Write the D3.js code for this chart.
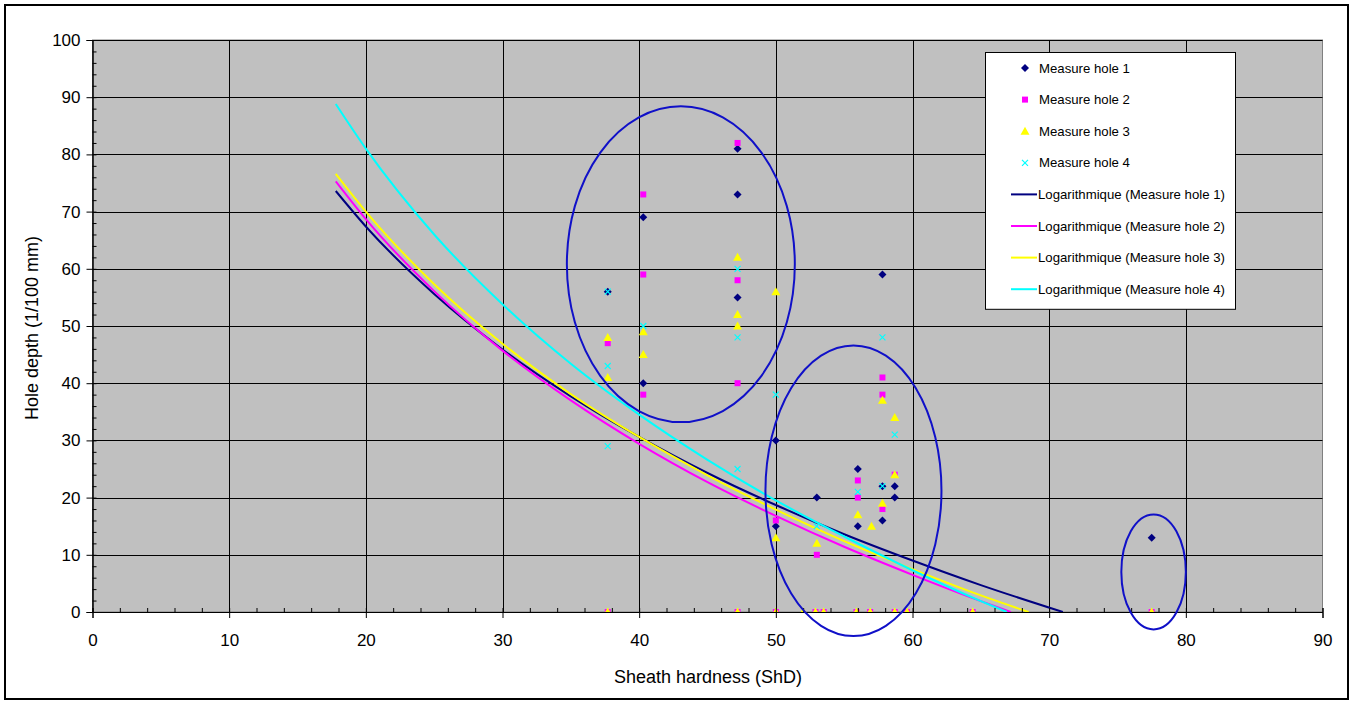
<!DOCTYPE html>
<meta charset="utf-8">
<style>
body{margin:0;background:#fff;}
svg{display:block}
text{font-family:Arial,"Liberation Sans",sans-serif;fill:#000;}
</style>
<svg id="chart" width="1354" height="704"></svg>
<script src="https://d3js.org/d3.v7.min.js"></script>
<script>
// scatter series: [hardness ShD, hole depth 1/100 mm]
const hole1 = [[37.7,56],[40.3,69],[40.3,40],[47.2,81],[47.2,73],[47.2,55],[50.0,30],[50.0,15],
  [53.0,20],[56.0,25],[56.0,15],[57.8,59],[57.8,22],[57.8,16],[58.7,22],[58.7,20],[77.5,13]]
const hole2 = [[37.7,47],[40.3,73],[40.3,59],[40.3,38],[47.2,82],[47.2,58],[47.2,40],[50.0,16],
  [53.0,10],[56.0,23],[56.0,20],[57.8,41],[57.8,38],[57.8,18],[58.7,24],
  [37.7,0],[47.2,0],[50.0,0],[52.9,0],[53.5,0],[55.9,0],[56.9,0],[58.7,0],[59.6,0],[64.4,0],[77.5,0]]
const hole3 = [[37.7,48],[37.7,41],[40.3,49],[40.3,45],[47.2,62],[47.2,52],[47.2,50],[50.0,56],
  [50.0,13],[53.0,12],[56.0,17],[57.0,15],[57.8,37],[57.8,19],[58.7,34],[58.7,24],
  [37.7,0],[47.2,0],[50.0,0],[52.0,0],[52.9,0],[53.5,0],[55.9,0],[56.9,0],[58.7,0],[59.6,0],[64.4,0],[77.5,0]]
const hole4 = [[37.7,56],[37.7,43],[37.7,29],[40.3,50],[47.2,60],[47.2,48],[47.2,25],[50.0,38],
  [53.0,15],[56.0,21],[57.8,48],[57.8,22],[58.7,31]]

// logarithmic trend lines
const trend1 = [[17.8,73.6],[20,67.4],[25,55.6],[30,45.9],[35,37.7],[40,30.6],[45,24.3],[50,18.7],[55,13.6],[60,9.0],[65,4.7],[71.0,0]]
const trend2 = [[17.8,75.3],[20,68.7],[25,56.1],[30,45.7],[35,37.0],[40,29.4],[45,22.7],[50,16.8],[55,11.4],[60,6.5],[65,1.9],[67.2,0]]
const trend3 = [[17.8,76.6],[20,70.0],[25,57.3],[30,46.9],[35,38.1],[40,30.6],[45,23.9],[50,17.9],[55,12.4],[60,7.5],[65,2.9],[68.5,0]]
const trend4 = [[17.8,88.8],[20,81.0],[25,66.0],[30,53.8],[35,43.4],[40,34.5],[45,26.6],[50,19.5],[55,13.2],[60,7.3],[65,1.9],[66.9,0]]

// hand-drawn ellipses: centre x, centre y, radius x, radius y (data units)
const circles = [[43.05,60.8,8.34,27.6],[55.68,21.2,6.44,25.4],[77.64,7.0,2.36,10.05]]

const seriesNames = ['Measure hole 1','Measure hole 2','Measure hole 3','Measure hole 4']
const trendNames = seriesNames.map(n => 'Logarithmique (' + n + ')')
const colors = ['#000080','#ff00ff','#ffff00','#00ffff']
const shapes = ['diamond','square','triangle','cross']

const svg = d3.select('#chart')
const x = d3.scaleLinear().domain([0,90]).range([92.5,1322.5])
const y = d3.scaleLinear().domain([0,100]).range([612,40])

// outer chart frame
svg.append('rect').attr('x',5).attr('y',5).attr('width',1343).attr('height',694)
  .attr('fill','#fff').attr('stroke','#000').attr('stroke-width',2)

// plot area
svg.append('rect').attr('x',x(0)).attr('y',y(100)).attr('width',x(90)-x(0)).attr('height',y(0)-y(100))
  .attr('fill','#c0c0c0').attr('stroke','#808080')

const grid = svg.append('g').attr('stroke','#000').attr('stroke-width',1)
grid.selectAll('line.v').data(d3.range(10,90,10)).join('line').attr('class','v')
  .attr('x1',d=>Math.round(x(d))+0.5).attr('x2',d=>Math.round(x(d))+0.5).attr('y1',y(0)).attr('y2',y(100))
grid.selectAll('line.h').data(d3.range(10,101,10)).join('line').attr('class','h')
  .attr('y1',d=>Math.round(y(d))+0.5).attr('y2',d=>Math.round(y(d))+0.5).attr('x1',x(0)).attr('x2',x(90))

const plot = svg.append('g')
plot.append('clipPath').attr('id','clip').append('rect')
  .attr('x',x(0)).attr('y',y(100)).attr('width',x(90)-x(0)).attr('height',y(0)-y(100))

// trend lines
const line = d3.line().x(d=>x(d[0])).y(d=>y(d[1])).curve(d3.curveMonotoneX)
;[trend1,trend2,trend3,trend4].forEach((t,i) => {
  plot.append('path').datum(t).attr('d',line).attr('fill','none')
    .attr('stroke',colors[i]).attr('stroke-width',2).attr('clip-path','url(#clip)')
})

function marker(g, shape, color){
  if(shape==='diamond') g.append('path').attr('d','M0,-4L4,0L0,4L-4,0Z').attr('fill',color)
  if(shape==='square') g.append('rect').attr('x',-3).attr('y',-3).attr('width',6).attr('height',6).attr('fill',color)
  if(shape==='triangle') g.append('path').attr('d','M0,-4.5L4.5,3.5L-4.5,3.5Z').attr('fill',color)
  if(shape==='cross') g.append('path').attr('d','M-3,-3L3,3M-3,3L3,-3').attr('stroke',color).attr('stroke-width',1.2)
}

;[hole1,hole2,hole3,hole4].forEach((s,i) => {
  plot.append('g').attr('clip-path','url(#clip)').selectAll('g').data(s).join('g')
    .attr('transform',d=>`translate(${x(d[0])},${y(d[1])})`)
    .each(function(){ marker(d3.select(this), shapes[i], colors[i]) })
})

// axes
const yAxis = svg.append('g').attr('transform',`translate(${x(0)},0)`)
yAxis.call(d3.axisLeft(y).tickValues(d3.range(0,101,2)).tickSize(-4).tickFormat(''))
yAxis.append('g').call(d3.axisLeft(y).tickValues(d3.range(0,101,10)).tickSize(6).tickPadding(6))
const xAxis = svg.append('g').attr('transform',`translate(0,${y(0)})`)
xAxis.call(d3.axisBottom(x).tickValues(d3.range(0,91,2)).tickSize(-4).tickFormat(''))
xAxis.append('g').call(d3.axisBottom(x).tickValues(d3.range(0,91,10)).tickSize(6).tickPadding(16))
svg.selectAll('.domain').attr('stroke','#000')
svg.selectAll('.tick line').attr('stroke','#000')
svg.selectAll('.tick text').style('font-size','17px').attr('fill','#000')

// axis titles
svg.append('text').attr('x',708).attr('y',683).attr('text-anchor','middle')
  .style('font-size','18px').text('Sheath hardness (ShD)')
svg.append('text').attr('transform','translate(38,328) rotate(-90)').attr('text-anchor','middle')
  .style('font-size','18px').text('Hole depth (1/100 mm)')

// ellipses
svg.append('g').selectAll('ellipse').data(circles).join('ellipse')
  .attr('cx',d=>x(d[0])).attr('cy',d=>y(d[1]))
  .attr('rx',d=>x(d[2])-x(0)).attr('ry',d=>y(0)-y(d[3]))
  .attr('fill','none').attr('stroke','#1010c8').attr('stroke-width',2)

// legend
const legend = svg.append('g')
const rowH = 31.6, legendTop = 68
legend.append('rect').attr('x',985.5).attr('y',52.5).attr('width',250).attr('height',rowH*8+4)
  .attr('fill','#fff').attr('stroke','#000')
seriesNames.forEach((n,i) => {
  const g = legend.append('g').attr('transform',`translate(1025,${legendTop+i*rowH})`)
  marker(g, shapes[i], colors[i])
  legend.append('text').attr('x',1039).attr('y',legendTop+i*rowH).attr('dy','0.35em')
    .style('font-size','13.2px').text(n)
})
trendNames.forEach((n,i) => {
  const yy = legendTop+(i+4)*rowH
  legend.append('line').attr('x1',1011).attr('x2',1037).attr('y1',yy).attr('y2',yy)
    .attr('stroke',colors[i]).attr('stroke-width',2)
  legend.append('text').attr('x',1038).attr('y',yy).attr('dy','0.35em')
    .style('font-size','13.2px').text(n)
})
</script>
